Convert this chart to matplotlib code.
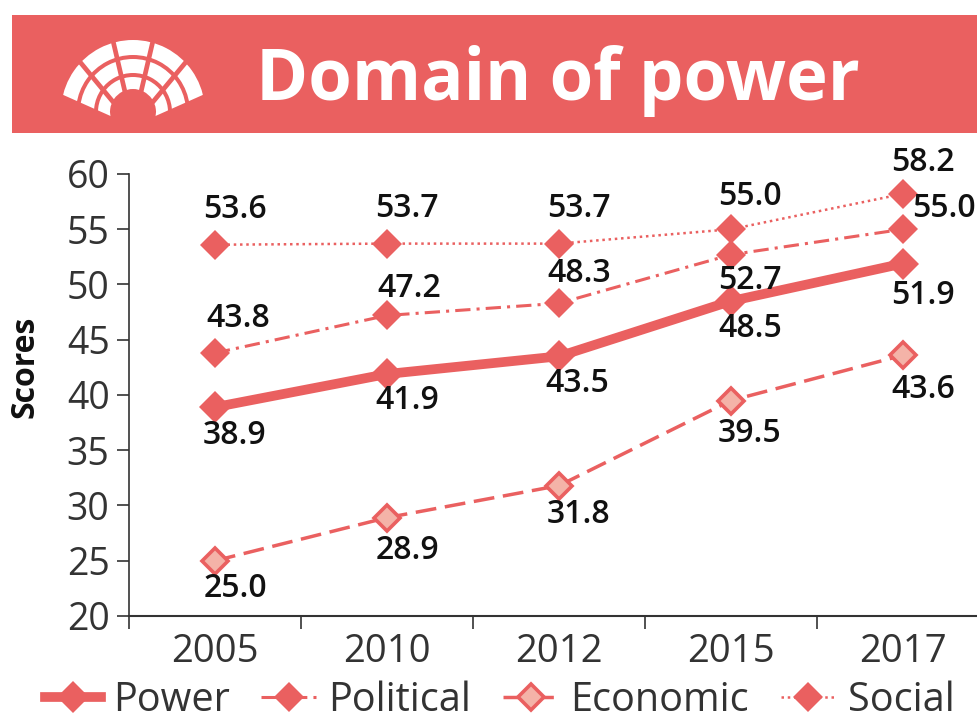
import math

import matplotlib
matplotlib.use("Agg")
import matplotlib.pyplot as plt
from matplotlib.patches import Rectangle, Wedge

plt.rcParams["font.family"] = ["Open Sans", "DejaVu Sans"]

years = ["2005", "2010", "2012", "2015", "2017"]
power = [38.9, 41.9, 43.5, 48.5, 51.9]
political = [43.8, 47.2, 48.3, 52.7, 55.0]
economic = [25.0, 28.9, 31.8, 39.5, 43.6]
social = [53.6, 53.7, 53.7, 55.0, 58.2]
y_ticks = [20, 25, 30, 35, 40, 45, 50, 55, 60]

RED = "#EA6060"
PINK = "#F4B3A8"
DARK = "#333333"
W, H = 978, 722

# label offsets from the marker, in pixels
power_off = [(20, -28), (20, -26), (18, -27), (19, -27), (20, -32)]
political_off = [(23, 35), (22, 27), (20, 30), (19, -26), (41, 21)]
economic_off = [(20, -28), (20, -33), (20, -29), (19, -33), (20, -34)]
social_off = [(20, 35), (20, 35), (20, 35), (19, 33), (20, 31)]


def draw_banner(fig):
    bg = fig.add_axes([0, 0, 1, 1])
    bg.set_xlim(0, W)
    bg.set_ylim(H, 0)
    bg.axis("off")
    bg.add_patch(Rectangle((12, 15), 966, 118, color=RED, lw=0))
    bg.text(558, 81, "Domain of power", color="white", fontsize=50.8,
            fontweight="bold", ha="center", va="center")
    # parliament icon: rings around one centre, cut by rays from a lower apex
    apex = (133, 126)
    fan = Wedge(apex, 110, -156, -24, transform=bg.transData)
    for outer, inner in [(72, 57), (53, 39), (35, 23)]:
        ring = bg.add_patch(Wedge((133, 112), outer, -200, 20, width=outer - inner, color="white", lw=0))
        ring.set_clip_path(fan)
    for k in range(1, 5):
        t = math.radians(156 - 26.4 * k)
        bg.plot([apex[0], apex[0] + 90 * math.cos(t)], [apex[1], apex[1] - 90 * math.sin(t)],
                color=RED, lw=3.4, solid_capstyle="butt")
    bg.set_xlim(0, W)
    bg.set_ylim(H, 0)


def add_labels(ax, values, offsets):
    for i, v in enumerate(values):
        ax.annotate(f"{v:.1f}", (i, v), xytext=offsets[i], textcoords="offset pixels",
                    ha="center", va="center", fontsize=23, fontweight="semibold",
                    color="#111111", zorder=6)


def main():
    fig = plt.figure(figsize=(W / 100, H / 100), dpi=100)
    draw_banner(fig)

    ax = fig.add_axes([129 / W, 1 - 616 / H, (W - 129) / W, (616 - 174) / H])
    ax.patch.set_alpha(0)
    x = range(len(years))

    l_social, = ax.plot(x, social, color=RED, lw=1.8, ls=(0, (1, 1.5)), marker="D", ms=15,
                        mec=RED, mew=0, clip_on=False, zorder=3, label="Social")
    l_political, = ax.plot(x, political, color=RED, lw=2.2, ls=(0, (5, 2, 1, 2)), marker="D", ms=15,
                           mec=RED, mew=0, clip_on=False, zorder=3, label="Political")
    l_economic, = ax.plot(x, economic, color=RED, lw=2.5, ls=(0, (6, 2.5)), marker="D", ms=13,
                          mfc=PINK, mec=RED, mew=2.6, clip_on=False, zorder=3, label="Economic")
    l_power, = ax.plot(x, power, color=RED, lw=7, marker="D", ms=16,
                       mec=RED, mew=0, clip_on=False, zorder=4, label="Power")

    add_labels(ax, power, power_off)
    add_labels(ax, political, political_off)
    add_labels(ax, economic, economic_off)
    add_labels(ax, social, social_off)

    ax.set_xlim(-0.5, -0.5 + (W - 129) / 172)
    ax.set_ylim(20, 60)
    ax.set_yticks(y_ticks)
    ax.set_xticks([i - 0.5 for i in range(len(years))])
    ax.set_xticklabels([])
    ax.set_xticks(list(x), minor=True)
    ax.set_xticklabels(years, minor=True)
    ax.tick_params(axis="x", which="minor", length=0, labelsize=27.5, labelcolor=DARK, pad=12)
    ax.tick_params(axis="x", which="major", length=9, width=1.2, color=DARK)
    ax.tick_params(axis="y", length=9, width=1.2, color=DARK, labelsize=27, labelcolor=DARK, pad=5)
    ax.set_ylabel("Scores", fontsize=23, fontweight="bold", color="#111111")
    ax.yaxis.set_label_coords(-0.1025, 0.563)
    ax.spines["top"].set_visible(False)
    ax.spines["right"].set_visible(False)
    ax.spines["left"].set_color(DARK)
    ax.spines["bottom"].set_color(DARK)
    ax.spines["left"].set_linewidth(1.2)
    ax.spines["bottom"].set_linewidth(1.5)

    fig.legend(handles=[l_power, l_political, l_economic, l_social], ncol=4, frameon=False,
               loc="center", bbox_to_anchor=(500 / W, 1 - 701 / H), fontsize=28.5, labelcolor=DARK,
               handlelength=1.4, handletextpad=0.3, columnspacing=0.8, borderpad=0)

    fig.savefig("out.png", dpi=100)


if __name__ == "__main__":
    main()
